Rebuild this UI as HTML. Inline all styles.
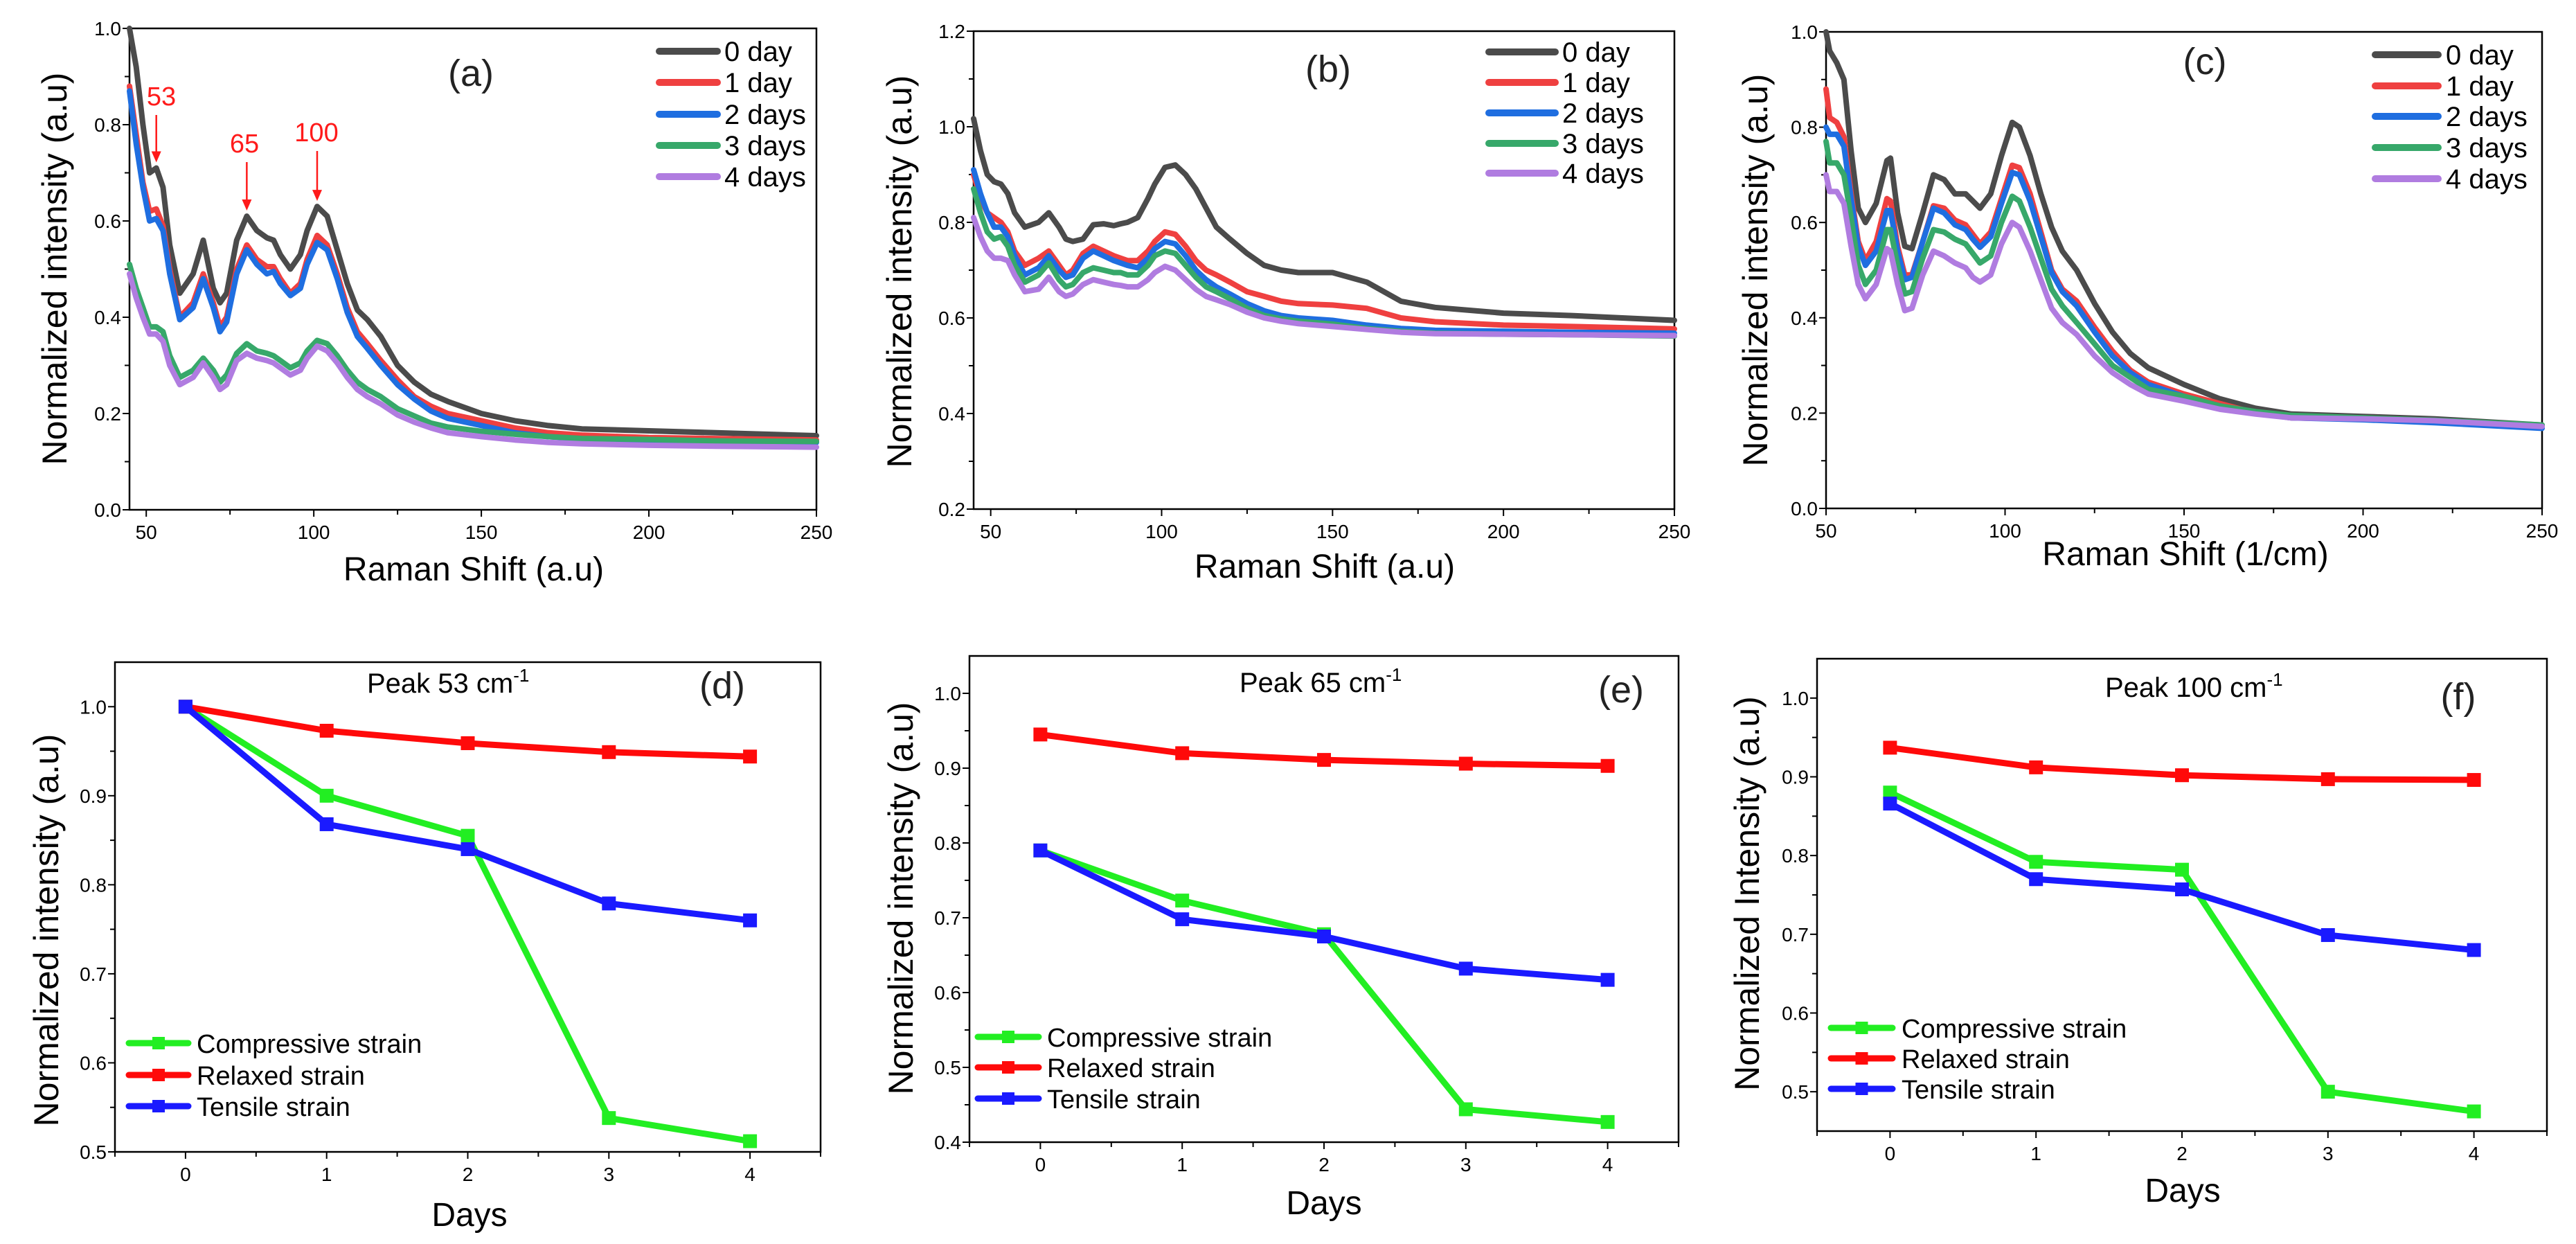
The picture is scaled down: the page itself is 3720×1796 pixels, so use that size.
<!DOCTYPE html>
<html><head><meta charset="utf-8">
<style>
html,body{margin:0;padding:0;background:#fff;}
svg{display:block;font-family:"Liberation Sans",sans-serif;}
</style></head>
<body>
<svg id="fig" width="3720" height="1796" viewBox="0 0 3720 1796" xmlns="http://www.w3.org/2000/svg"></svg>
<script>
// ---------- data ----------
const xA = [45,47,49,51,53,55,57,60,64,67,70,72,74,77,80,83,86,88,90,93,96,98,101,104,107,110,113,116,120,125,130,135,140,150,160,170,180,200,220,250];
const a0 = [1.0,0.92,0.80,0.70,0.71,0.67,0.55,0.45,0.49,0.56,0.46,0.43,0.45,0.56,0.61,0.58,0.565,0.56,0.53,0.50,0.53,0.58,0.63,0.61,0.54,0.47,0.415,0.395,0.36,0.30,0.265,0.24,0.225,0.20,0.185,0.175,0.168,0.164,0.16,0.154];
const a1 = [0.88,0.78,0.68,0.62,0.625,0.59,0.50,0.40,0.43,0.49,0.43,0.38,0.40,0.50,0.55,0.52,0.505,0.505,0.48,0.45,0.47,0.52,0.57,0.55,0.49,0.42,0.37,0.345,0.31,0.27,0.235,0.215,0.20,0.185,0.17,0.16,0.155,0.15,0.148,0.145];
const a2 = [0.87,0.76,0.67,0.60,0.605,0.58,0.49,0.395,0.42,0.48,0.42,0.37,0.39,0.49,0.54,0.51,0.49,0.495,0.47,0.445,0.46,0.51,0.555,0.54,0.48,0.41,0.36,0.335,0.30,0.26,0.23,0.205,0.19,0.175,0.16,0.152,0.147,0.145,0.143,0.14];
const a3 = [0.51,0.46,0.42,0.38,0.38,0.37,0.32,0.275,0.29,0.315,0.29,0.265,0.28,0.325,0.345,0.33,0.325,0.32,0.31,0.295,0.305,0.33,0.352,0.345,0.32,0.29,0.265,0.25,0.235,0.21,0.195,0.18,0.172,0.163,0.157,0.152,0.148,0.146,0.143,0.142];
const a4 = [0.49,0.44,0.40,0.365,0.365,0.35,0.30,0.26,0.275,0.305,0.275,0.25,0.26,0.31,0.325,0.315,0.31,0.305,0.295,0.28,0.29,0.315,0.34,0.33,0.305,0.275,0.25,0.235,0.22,0.197,0.182,0.17,0.16,0.152,0.145,0.14,0.137,0.134,0.132,0.13];

const b0 = [1.017,0.95,0.90,0.885,0.88,0.86,0.82,0.79,0.80,0.82,0.79,0.765,0.76,0.765,0.795,0.797,0.793,0.797,0.80,0.81,0.85,0.88,0.915,0.92,0.90,0.87,0.83,0.79,0.765,0.735,0.71,0.70,0.695,0.695,0.675,0.635,0.622,0.61,0.605,0.595];
const b1 = [0.90,0.85,0.82,0.81,0.80,0.78,0.74,0.71,0.725,0.74,0.71,0.69,0.70,0.735,0.75,0.74,0.73,0.725,0.72,0.72,0.74,0.76,0.78,0.775,0.75,0.72,0.70,0.69,0.675,0.655,0.645,0.635,0.63,0.627,0.62,0.60,0.592,0.585,0.582,0.577];
const b2 = [0.91,0.86,0.82,0.79,0.79,0.77,0.73,0.69,0.705,0.73,0.70,0.685,0.69,0.725,0.74,0.73,0.72,0.715,0.71,0.705,0.725,0.745,0.76,0.755,0.73,0.70,0.68,0.665,0.65,0.63,0.615,0.605,0.60,0.595,0.585,0.578,0.574,0.572,0.57,0.568];
const b3 = [0.87,0.82,0.78,0.765,0.77,0.75,0.71,0.675,0.69,0.715,0.68,0.665,0.67,0.695,0.705,0.70,0.695,0.695,0.69,0.69,0.71,0.73,0.74,0.735,0.71,0.685,0.665,0.655,0.64,0.62,0.605,0.598,0.593,0.587,0.578,0.572,0.568,0.566,0.565,0.562];
const b4 = [0.81,0.77,0.74,0.725,0.725,0.72,0.69,0.655,0.66,0.685,0.655,0.645,0.65,0.67,0.68,0.675,0.67,0.668,0.665,0.665,0.68,0.695,0.708,0.70,0.68,0.66,0.645,0.638,0.628,0.612,0.60,0.593,0.588,0.582,0.576,0.57,0.567,0.566,0.565,0.563];

const xC = [50,51,53,55,57,59,61,64,67,68,70,72,74,77,80,83,86,89,91,93,96,99,102,104,107,110,113,116,120,125,130,135,140,150,160,170,180,200,220,250];
const c0 = [1.0,0.96,0.935,0.90,0.75,0.63,0.60,0.64,0.73,0.735,0.62,0.55,0.545,0.62,0.70,0.69,0.66,0.66,0.645,0.63,0.66,0.74,0.81,0.80,0.74,0.66,0.59,0.54,0.50,0.43,0.37,0.325,0.295,0.26,0.23,0.21,0.198,0.193,0.188,0.175];
const c1 = [0.88,0.82,0.81,0.78,0.66,0.56,0.52,0.56,0.65,0.645,0.55,0.49,0.49,0.56,0.635,0.63,0.605,0.595,0.575,0.555,0.58,0.65,0.72,0.715,0.66,0.58,0.50,0.46,0.435,0.38,0.33,0.29,0.265,0.24,0.22,0.20,0.19,0.187,0.182,0.172];
const c2 = [0.80,0.785,0.785,0.76,0.65,0.55,0.51,0.54,0.625,0.625,0.54,0.48,0.485,0.56,0.63,0.62,0.595,0.585,0.565,0.548,0.57,0.64,0.705,0.70,0.645,0.57,0.495,0.455,0.425,0.37,0.32,0.285,0.26,0.235,0.215,0.20,0.19,0.186,0.18,0.168];
const c3 = [0.77,0.725,0.725,0.70,0.61,0.51,0.47,0.50,0.585,0.585,0.51,0.45,0.455,0.525,0.585,0.58,0.565,0.555,0.535,0.515,0.53,0.60,0.655,0.645,0.59,0.525,0.46,0.425,0.39,0.345,0.30,0.275,0.25,0.235,0.215,0.203,0.195,0.19,0.185,0.175];
const c4 = [0.70,0.665,0.665,0.64,0.55,0.47,0.44,0.47,0.545,0.54,0.47,0.415,0.42,0.49,0.54,0.53,0.515,0.505,0.485,0.475,0.49,0.555,0.60,0.59,0.54,0.48,0.42,0.39,0.365,0.32,0.285,0.26,0.24,0.225,0.208,0.198,0.19,0.188,0.184,0.172];

const days = [0,1,2,3,4];
const dComp = [1.0,0.90,0.855,0.538,0.512];
const dRelax = [1.0,0.973,0.959,0.949,0.944];
const dTens = [1.0,0.868,0.840,0.779,0.760];
const eComp = [0.790,0.723,0.678,0.444,0.427];
const eRelax = [0.945,0.920,0.911,0.906,0.903];
const eTens = [0.790,0.698,0.675,0.632,0.617];
const fComp = [0.880,0.792,0.782,0.500,0.475];
const fRelax = [0.937,0.912,0.902,0.897,0.896];
const fTens = [0.866,0.770,0.757,0.699,0.680];

const dayLabels = ["0 day","1 day","2 days","3 days","4 days"];
const strainLabels = ["Compressive strain","Relaxed strain","Tensile strain"];

// ---------- drawing ----------
const NS="http://www.w3.org/2000/svg";
const svg=document.getElementById('fig');
function mk(tag,attrs,parent,txt){const e=document.createElementNS(NS,tag);for(const k in attrs)e.setAttribute(k,attrs[k]);if(txt!==undefined)e.textContent=txt;(parent||svg).appendChild(e);return e;}
const specCols=["#4b4b4b","#ef4040","#1f6ee0","#37a86a","#b07ce0"];
const strainCols=["#22ee22","#ff0a0a","#1a1aff"];

function axes(p){
  const g=mk('g',{});
  
  
  p.sx=v=>p.L+(v-p.x0)/(p.x1-p.x0)*(p.R-p.L);
  p.sy=v=>p.B-(v-p.y0)/(p.y1-p.y0)*(p.B-p.T);
  mk('rect',{x:p.L,y:p.T,width:p.R-p.L,height:p.B-p.T,fill:'none',stroke:'#000','stroke-width':2.5},g);
  for(const t of p.xt){const x=p.sx(t.v);mk('line',{x1:x,y1:p.B,x2:x,y2:p.B+(t.l?10:7),stroke:'#000','stroke-width':2},g);
    if(t.l){const tx=mk('text',{x:x,y:p.B+42,'font-size':28,'text-anchor':'middle'},g,t.l);}}
  for(const t of p.yt){const y=p.sy(t.v);mk('line',{x1:p.L,y1:y,x2:p.L-(t.l?10:7),y2:y,stroke:'#000','stroke-width':2},g);
    if(t.l){const tx=mk('text',{x:p.L-12,y:y+10,'font-size':28,'text-anchor':'end'},g,t.l);}}
  const xt=mk('text',{x:p.xtx,y:p.xty,'font-size':48,'text-anchor':'middle'},g,p.xtitle);
  
  const yt=mk('text',{x:0,y:0,'font-size':50,'text-anchor':'middle',transform:`translate(${p.ytx},${p.yty}) rotate(-90)`},g,p.ytitle);
  
  const lb=mk('text',{x:p.lbx,y:p.lby,'font-size':54,'text-anchor':'middle',fill:'#222'},g,p.lab);
  
  p.g=g;return p;
}
function rangeTicks(a,b,step,labelEvery,fmt){const r=[];let i=0;for(let v=a;v<=b+1e-9;v+=step,i++){r.push({v:v,l:(i%labelEvery===0)?fmt(v):null});}return r;}

function spectra(p,xs,series){
  series.forEach((ys,i)=>{
    const d=xs.map((x,k)=>(k?'L':'M')+p.sx(x).toFixed(1)+','+p.sy(ys[k]).toFixed(1)).join(' ');
    const path=mk('path',{d:d,fill:'none',stroke:specCols[i],'stroke-width':8,'stroke-linejoin':'round','stroke-linecap':'round'},p.g);
    
    
  });
}
function specLegend(p,lx1,lx2,ys,tx){
  dayLabels.forEach((lab,i)=>{
    const ln=mk('line',{x1:lx1,y1:ys[i],x2:lx2,y2:ys[i],stroke:specCols[i],'stroke-width':10,'stroke-linecap':'round'},p.g);
    
    const t=mk('text',{x:tx,y:ys[i]+14,'font-size':40},p.g,lab);
    
  });
}
function strainLines(p,series){
  series.forEach((ys,i)=>{
    const d=days.map((x,k)=>(k?'L':'M')+p.sx(x).toFixed(1)+','+p.sy(ys[k]).toFixed(1)).join(' ');
    const path=mk('path',{d:d,fill:'none',stroke:strainCols[i],'stroke-width':9,'stroke-linejoin':'round'},p.g);
    
    
    days.forEach((x,k)=>{const r=mk('rect',{x:p.sx(x)-10,y:p.sy(ys[k])-10,width:20,height:20,fill:strainCols[i]},p.g);
      });
  });
}
function strainLegend(p,lx1,lx2,ys,tx){
  strainLabels.forEach((lab,i)=>{
    const ln=mk('line',{x1:lx1,y1:ys[i],x2:lx2,y2:ys[i],stroke:strainCols[i],'stroke-width':9,'stroke-linecap':'round'},p.g);
    
    mk('rect',{x:(lx1+lx2)/2-9,y:ys[i]-9,width:18,height:18,fill:strainCols[i]},p.g);
    const t=mk('text',{x:tx,y:ys[i]+14,'font-size':38},p.g,lab);
    
  });
}
function peakTitle(p,x,y,num){
  const t=mk('text',{x:x,y:y,'font-size':40},p.g);
  
  t.appendChild(document.createTextNode('Peak '+num+' cm'));
  const s=document.createElementNS(NS,'tspan');s.setAttribute('dy','-16');s.setAttribute('font-size','26');s.textContent='-1';t.appendChild(s);
}
const f1=v=>v.toFixed(1), f0=v=>String(Math.round(v));

// panel a
const pa=axes({name:'panel-a',L:187,R:1179,T:41,B:736,x0:45,x1:250,y0:0,y1:1,
  xt:rangeTicks(50,250,25,2,f0),yt:rangeTicks(0,1,0.1,2,f1),
  xtitle:'Raman Shift (a.u)',xtx:684,xty:838,ytitle:'Normalized intensity (a.u)',ytx:96,yty:388,lab:'(a)',lbx:680,lby:124});
spectra(pa,xA,[a0,a1,a2,a3,a4]);
specLegend(pa,952,1036,[74,119,165,210,255],1046);
[[53,0.71,233,152,'53'],[80,0.61,353,220,'65'],[101,0.63,457,204,'100']].forEach(([xv,yv,lx,ly,lab])=>{
  const x=pa.sx(xv), y=pa.sy(yv);
  const t=mk('text',{x:lx,y:ly,'font-size':38,fill:'#ff1a1a','text-anchor':'middle'},pa.g,lab);
  
  mk('line',{x1:x,y1:ly+14,x2:x,y2:y-22,stroke:'#ff1a1a','stroke-width':2.5},pa.g);
  mk('polygon',{points:`${x-7},${y-24} ${x+7},${y-24} ${x},${y-8}`,fill:'#ff1a1a'},pa.g);
});
// panel b
const pb=axes({name:'panel-b',L:1406,R:2418,T:45,B:735,x0:45,x1:250,y0:0.2,y1:1.2,
  xt:rangeTicks(50,250,25,2,f0),yt:rangeTicks(0.2,1.2,0.1,2,f1),
  xtitle:'Raman Shift (a.u)',xtx:1913,xty:834,ytitle:'Normalized intensity (a.u)',ytx:1316,yty:392,lab:'(b)',lbx:1918,lby:118});
spectra(pb,xA,[b0,b1,b2,b3,b4]);
specLegend(pb,2150,2246,[75,119,163,207,250],2256);
// panel c
const pc=axes({name:'panel-c',L:2637,R:3671,T:46,B:734,x0:50,x1:250,y0:0,y1:1,
  xt:rangeTicks(50,250,25,2,f0),yt:rangeTicks(0,1,0.1,2,f1),
  xtitle:'Raman Shift (1/cm)',xtx:3156,xty:816,ytitle:'Normalized intensity (a.u)',ytx:2552,yty:390,lab:'(c)',lbx:3184,lby:107});
spectra(pc,xC,[c0,c1,c2,c3,c4]);
specLegend(pc,3430,3521,[79,124,168,213,258],3532);
// panel d
const pd=axes({name:'panel-d',L:166,R:1185,T:956,B:1663,x0:-0.5,x1:4.5,y0:0.5,y1:1.05,
  xt:rangeTicks(-0.5,4.5,0.5,1,v=>null).map(t=>({v:t.v,l:(Math.abs(t.v-Math.round(t.v))<1e-6)?f0(t.v):null})),
  yt:rangeTicks(0.5,1.0,0.05,2,f1),
  xtitle:'Days',xtx:678,xty:1770,ytitle:'Normalized intensity (a.u)',ytx:84,yty:1343,lab:'(d)',lbx:1043,lby:1008});
strainLines(pd,[dComp,dRelax,dTens]);
strainLegend(pd,186,272,[1506,1552,1597],284);
peakTitle(pd,530,1000,53);
// panel e
const pe=axes({name:'panel-e',L:1400,R:2424,T:947,B:1649,x0:-0.5,x1:4.5,y0:0.4,y1:1.05,
  xt:rangeTicks(-0.5,4.5,0.5,1,v=>null).map(t=>({v:t.v,l:(Math.abs(t.v-Math.round(t.v))<1e-6)?f0(t.v):null})),
  yt:rangeTicks(0.4,1.0,0.05,2,f1),
  xtitle:'Days',xtx:1912,xty:1753,ytitle:'Normalized intensity (a.u)',ytx:1318,yty:1297,lab:'(e)',lbx:2341,lby:1014});
strainLines(pe,[eComp,eRelax,eTens]);
strainLegend(pe,1412,1500,[1497,1541,1586],1512);
peakTitle(pe,1790,999,65);
// panel f
const pf=axes({name:'panel-f',L:2624,R:3678,T:951,B:1633,x0:-0.5,x1:4.5,y0:0.45,y1:1.05,
  xt:rangeTicks(-0.5,4.5,0.5,1,v=>null).map(t=>({v:t.v,l:(Math.abs(t.v-Math.round(t.v))<1e-6)?f0(t.v):null})),
  yt:rangeTicks(0.5,1.0,0.05,2,f1),
  xtitle:'Days',xtx:3152,xty:1735,ytitle:'Normalized Intensity (a.u)',ytx:2540,yty:1290,lab:'(f)',lbx:3550,lby:1024});
strainLines(pf,[fComp,fRelax,fTens]);
strainLegend(pf,2644,2733,[1484,1528,1572],2746);
peakTitle(pf,3040,1006,100);
</script>
</body></html>
